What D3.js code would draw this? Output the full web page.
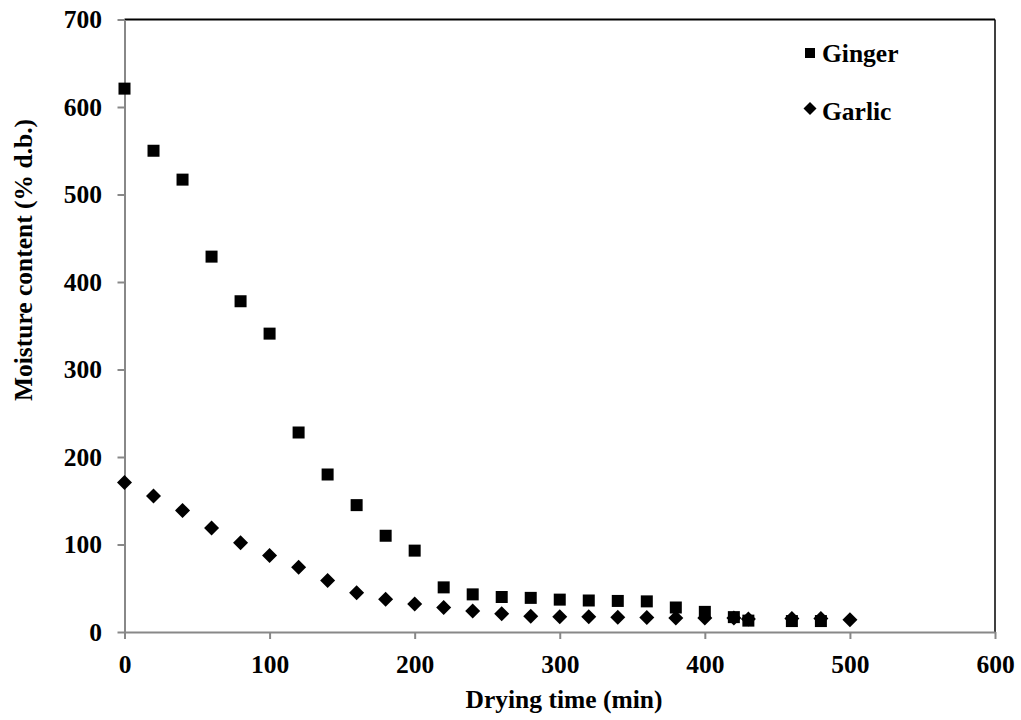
<!DOCTYPE html>
<html><head><meta charset="utf-8">
<script src="https://cdn.jsdelivr.net/npm/d3@7"></script>
<style>body{margin:0;background:#fff}svg{display:block}text{font-family:"Liberation Serif","Times New Roman",serif;font-weight:bold}</style>
</head><body><svg id="c" width="1021" height="720"></svg>
<script>
const gingerTime = [0,20,40,60,80,100,120,140,160,180,200,220,240,260,280,300,320,340,360,380,400,420,430,460,480];
const gingerMoisture = [621,550,517,429,378,341,228,180,145,110,93,51,43,40,39,37,36,35.5,35,28,23,17,13,12.5,12.5];
const garlicTime = [0,20,40,60,80,100,120,140,160,180,200,220,240,260,280,300,320,340,360,380,400,420,430,460,480,500];
const garlicMoisture = [171,155.5,139,119,102,87.5,74,59,45,37.5,32,28,24,21,18,17.5,17.5,17,16.5,16,16,16,15,15.5,15.5,14];
const xTicks = [0,100,200,300,400,500,600];
const yTicks = [0,100,200,300,400,500,600,700];
const seriesNames = ["Ginger","Garlic"];

const FS = 25.5;
const svg = d3.select("#c");
const L=124.5, R=995, T=19.5, B=632;
const x = d3.scaleLinear().domain([0,600]).range([L,R]);
const y = d3.scaleLinear().domain([0,700]).range([B,T]);

// frame top/right black
svg.append("line").attr("x1",L).attr("x2",R).attr("y1",T).attr("y2",T).attr("stroke","#000").attr("stroke-width",2);
svg.append("line").attr("x1",R).attr("x2",R).attr("y1",T).attr("y2",B).attr("stroke","#000").attr("stroke-width",1.5);

const xa = svg.append("g").attr("transform",`translate(0,${B})`)
  .call(d3.axisBottom(x).tickValues(xTicks).tickSize(7).tickSizeOuter(0));
const ya = svg.append("g").attr("transform",`translate(${L},0)`)
  .call(d3.axisLeft(y).tickValues(yTicks).tickSize(7).tickPadding(15.5).tickSizeOuter(0));
[xa,ya].forEach(a=>{
  a.select(".domain").attr("stroke","#888").attr("stroke-width",2);
  a.selectAll(".tick line").attr("stroke","#888").attr("stroke-width",2);
  a.selectAll("text").attr("font-size",FS).attr("fill","#000").style("font-family",'"Liberation Serif",serif').style("font-weight","bold");
});
xa.selectAll(".tick text").attr("y",41).attr("dy",0);

const diamond = s => `M0,${-s}L${s},0L0,${s}L${-s},0Z`;
svg.append("g").selectAll("path").data(garlicTime).join("path")
  .attr("d",diamond(7.5)).attr("fill","#000")
  .attr("transform",(d,i)=>`translate(${x(d)},${y(garlicMoisture[i])})`);
svg.append("g").selectAll("rect").data(gingerTime).join("rect")
  .attr("x",d=>x(d)-6).attr("y",(d,i)=>y(gingerMoisture[i])-6)
  .attr("width",12).attr("height",12).attr("fill","#000");

// legend
svg.append("rect").attr("x",805).attr("y",48).attr("width",10).attr("height",10).attr("fill","#000");
svg.append("text").attr("x",822).attr("y",61.5).attr("font-size",FS).text(seriesNames[0]);
svg.append("path").attr("d",diamond(6.5)).attr("transform","translate(810,108.5)").attr("fill","#000");
svg.append("text").attr("x",822).attr("y",120).attr("font-size",FS).text(seriesNames[1]);

svg.append("text").attr("x",564).attr("y",708).attr("text-anchor","middle").attr("font-size",FS).text("Drying time (min)");
svg.append("text").attr("transform","translate(32,260) rotate(-90)").attr("text-anchor","middle").attr("font-size",FS).text("Moisture content (% d.b.)");
</script></body></html>
